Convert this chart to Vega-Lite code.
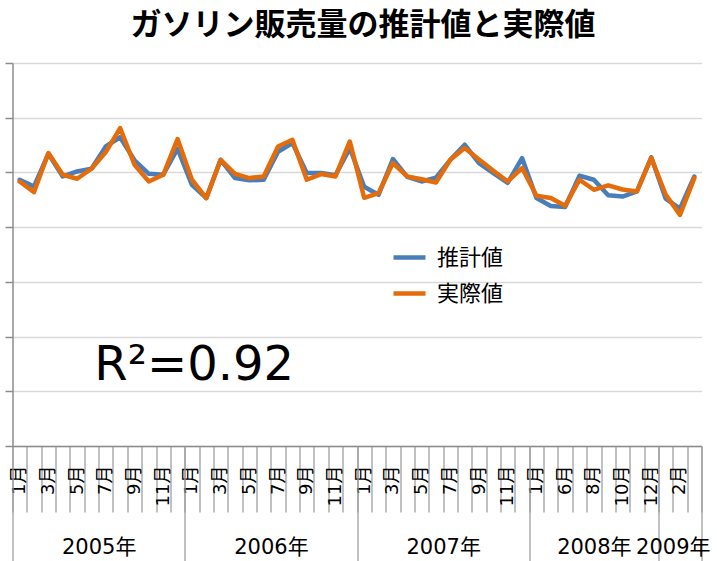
{
  "$schema": "https://vega.github.io/schema/vega-lite/v6.json",
  "width": 689,
  "height": 383,
  "autosize": {"type": "none"},
  "padding": {"left": 12.5, "top": 63, "right": 15.5, "bottom": 115},
  "background": "white",
  "title": {
    "text": "ガソリン販売量の推計値と実際値",
    "font": "Noto Sans CJK JP",
    "fontSize": 31,
    "fontWeight": "bold",
    "color": "#000000",
    "anchor": "middle",
    "frame": "group",
    "offset": 20,
    "dx": 6
  },
  "datasets": {
    "sales": [
      {"No": 1, "年": "2005年", "月": "1月", "推計値": 4866, "実際値": 4834},
      {"No": 2, "年": "2005年", "月": "2月", "推計値": 4743, "実際値": 4641},
      {"No": 3, "年": "2005年", "月": "3月", "推計値": 5341, "実際値": 5354},
      {"No": 4, "年": "2005年", "月": "4月", "推計値": 4926, "実際値": 4957},
      {"No": 5, "年": "2005年", "月": "5月", "推計値": 5017, "実際値": 4884},
      {"No": 6, "年": "2005年", "月": "6月", "推計値": 5067, "実際値": 5067},
      {"No": 7, "年": "2005年", "月": "7月", "推計値": 5475, "実際値": 5372},
      {"No": 8, "年": "2005年", "月": "8月", "推計値": 5643, "実際値": 5811},
      {"No": 9, "年": "2005年", "月": "9月", "推計値": 5222, "実際値": 5140},
      {"No": 10, "年": "2005年", "月": "10月", "推計値": 4975, "実際値": 4835},
      {"No": 11, "年": "2005年", "月": "11月", "推計値": 4957, "実際値": 4957},
      {"No": 12, "年": "2005年", "月": "12月", "推計値": 5433, "実際値": 5610},
      {"No": 13, "年": "2006年", "月": "1月", "推計値": 4774, "実際値": 4866},
      {"No": 14, "年": "2006年", "月": "2月", "推計値": 4531, "実際値": 4531},
      {"No": 15, "年": "2006年", "月": "3月", "推計値": 5231, "実際値": 5231},
      {"No": 16, "年": "2006年", "月": "4月", "推計値": 4897, "実際値": 4975},
      {"No": 17, "年": "2006年", "月": "5月", "推計値": 4856, "実際値": 4897},
      {"No": 18, "年": "2006年", "月": "6月", "推計値": 4866, "実際値": 4926},
      {"No": 19, "年": "2006年", "月": "7月", "推計値": 5378, "実際値": 5475},
      {"No": 20, "年": "2006年", "月": "8月", "推計値": 5537, "実際値": 5597},
      {"No": 21, "年": "2006年", "月": "9月", "推計値": 4988, "実際値": 4866},
      {"No": 22, "年": "2006年", "月": "10月", "推計値": 4988, "実際値": 4970},
      {"No": 23, "年": "2006年", "月": "11月", "推計値": 4948, "実際値": 4926},
      {"No": 24, "年": "2006年", "月": "12月", "推計値": 5445, "実際値": 5566},
      {"No": 25, "年": "2007年", "月": "1月", "推計値": 4738, "実際値": 4536},
      {"No": 26, "年": "2007年", "月": "2月", "推計値": 4591, "実際値": 4622},
      {"No": 27, "年": "2007年", "月": "3月", "推計値": 5246, "実際値": 5171},
      {"No": 28, "年": "2007年", "月": "4月", "推計値": 4920, "実際値": 4926},
      {"No": 29, "年": "2007年", "月": "5月", "推計値": 4835, "実際値": 4875},
      {"No": 30, "年": "2007年", "月": "6月", "推計値": 4906, "実際値": 4816},
      {"No": 31, "年": "2007年", "月": "7月", "推計値": 5231, "実際値": 5231},
      {"No": 32, "年": "2007年", "月": "8月", "推計値": 5506, "実際値": 5445},
      {"No": 33, "年": "2007年", "月": "9月", "推計値": 5171, "実際値": 5237},
      {"No": 34, "年": "2007年", "月": "10月", "推計値": 4988, "実際値": 5030},
      {"No": 35, "年": "2007年", "月": "11月", "推計値": 4811, "実際値": 4835},
      {"No": 36, "年": "2007年", "月": "12月", "推計値": 5262, "実際値": 5080},
      {"No": 37, "年": "2008年", "月": "1月", "推計値": 4531, "実際値": 4573},
      {"No": 38, "年": "2008年", "月": "2月", "推計値": 4386, "実際値": 4531},
      {"No": 39, "年": "2008年", "月": "6月", "推計値": 4368, "実際値": 4390},
      {"No": 40, "年": "2008年", "月": "7月", "推計値": 4939, "実際値": 4866},
      {"No": 41, "年": "2008年", "月": "8月", "推計値": 4866, "実際値": 4683},
      {"No": 42, "年": "2008年", "月": "9月", "推計値": 4582, "実際値": 4765},
      {"No": 43, "年": "2008年", "月": "10月", "推計値": 4560, "実際値": 4688},
      {"No": 44, "年": "2008年", "月": "11月", "推計値": 4652, "実際値": 4652},
      {"No": 45, "年": "2008年", "月": "12月", "推計値": 5277, "実際値": 5268},
      {"No": 46, "年": "2009年", "月": "1月", "推計値": 4522, "実際値": 4597},
      {"No": 47, "年": "2009年", "月": "2月", "推計値": 4339, "実際値": 4225},
      {"No": 48, "年": "2009年", "月": "3月", "推計値": 4926, "実際値": 4897}
    ]
  },
  "data": {"name": "sales"},
  "layer": [
    {
      "mark": {"type": "line", "strokeWidth": 4.5, "strokeJoin": "round", "strokeCap": "round"},
      "encoding": {
        "x": {
          "field": "No",
          "type": "quantitative",
          "scale": {"domain": [0.5, 48.5], "nice": false, "zero": false},
          "axis": {
            "title": null,
            "values": [0.5, 1.5, 2.5, 3.5, 4.5, 5.5, 6.5, 7.5, 8.5, 9.5, 10.5, 11.5, 12.5, 13.5, 14.5, 15.5, 16.5, 17.5, 18.5, 19.5, 20.5, 21.5, 22.5, 23.5, 24.5, 25.5, 26.5, 27.5, 28.5, 29.5, 30.5, 31.5, 32.5, 33.5, 34.5, 35.5, 36.5, 37.5, 38.5, 39.5, 40.5, 41.5, 42.5, 43.5, 44.5, 45.5, 46.5, 47.5, 48.5],
            "grid": false,
            "domain": true,
            "domainColor": "#8c8c8c",
            "domainWidth": 1.5,
            "ticks": true,
            "tickSize": 66,
            "tickColor": "#a0a0a0",
            "tickWidth": 1.3,
            "labelExpr": "datum.value < 48 && (datum.value + 0.5) % 2 == 1 ? data('sales')[datum.value - 0.5]['月'] : ''",
            "labelAngle": -90,
            "labelAlign": "right",
            "labelBaseline": "middle",
            "labelOffset": 7.18,
            "labelPadding": -47,
            "labelOverlap": false,
            "labelFlush": false,
            "labelFont": "DejaVu Sans, Noto Sans CJK JP",
            "labelFontSize": 18,
            "labelColor": "#000000"
          }
        },
        "y": {
          "field": "推計値",
          "type": "quantitative",
          "scale": {"domain": [0, 7000], "nice": false, "zero": true},
          "axis": {
            "title": null,
            "values": [0, 1000, 2000, 3000, 4000, 5000, 6000, 7000],
            "labels": false,
            "grid": true,
            "gridColor": "#d9d9d9",
            "gridWidth": 1.5,
            "domain": true,
            "domainColor": "#8c8c8c",
            "domainWidth": 1.5,
            "ticks": true,
            "tickSize": 7.5,
            "tickColor": "#8c8c8c",
            "tickWidth": 1.5
          }
        },
        "color": {
          "datum": "推計値",
          "type": "nominal",
          "scale": {"domain": ["推計値", "実際値"], "range": ["#4a7ebb", "#e46c0a"]},
          "legend": {
            "title": null,
            "orient": "none",
            "legendX": 378.5,
            "legendY": 176,
            "padding": 0,
            "symbolType": "stroke",
            "symbolSize": 1024,
            "symbolStrokeWidth": 4.5,
            "rowPadding": 6,
            "labelOffset": 9,
            "labelFont": "Noto Sans CJK JP",
            "labelFontSize": 22,
            "labelColor": "#000000"
          }
        }
      }
    },
    {
      "mark": {"type": "line", "strokeWidth": 4.5, "strokeJoin": "round", "strokeCap": "round"},
      "encoding": {
        "x": {
          "field": "No",
          "type": "quantitative",
          "scale": {"domain": [0.5, 48.5], "nice": false, "zero": false},
          "axis": {
            "title": null,
            "orient": "bottom",
            "values": [0.5, 12.5, 24.5, 36.5, 45.5, 48.5],
            "grid": false,
            "domain": false,
            "ticks": true,
            "tickSize": 116,
            "tickColor": "#a0a0a0",
            "tickWidth": 1.3,
            "labelExpr": "datum.value < 48 ? data('sales')[datum.value - 0.5]['年'] : ''",
            "labelAngle": 0,
            "labelAlign": "center",
            "labelBaseline": "middle",
            "labelOffset": {"expr": "datum.value == 36.5 ? 64.6 : datum.value == 45.5 ? 14.4 : 86.2"},
            "labelPadding": -14.5,
            "labelOverlap": false,
            "labelFlush": false,
            "labelFont": "DejaVu Sans, Noto Sans CJK JP",
            "labelFontSize": 21,
            "labelColor": "#000000"
          }
        },
        "y": {
          "field": "実際値",
          "type": "quantitative",
          "scale": {"domain": [0, 7000], "nice": false, "zero": true},
          "axis": {
            "title": null,
            "values": [0, 1000, 2000, 3000, 4000, 5000, 6000, 7000],
            "labels": false,
            "grid": true,
            "gridColor": "#d9d9d9",
            "gridWidth": 1.5,
            "domain": true,
            "domainColor": "#8c8c8c",
            "domainWidth": 1.5,
            "ticks": true,
            "tickSize": 7.5,
            "tickColor": "#8c8c8c",
            "tickWidth": 1.5
          }
        },
        "color": {"datum": "実際値", "type": "nominal"}
      }
    },
    {
      "data": {"values": [{"label": "R²=0.92"}]},
      "mark": {"type": "text", "align": "left", "baseline": "alphabetic", "font": "DejaVu Sans", "fontSize": 48, "fill": "#000000"},
      "encoding": {
        "x": {"datum": 6.2, "type": "quantitative", "scale": {"domain": [0.5, 48.5], "nice": false, "zero": false}, "axis": null},
        "y": {
          "datum": 1207,
          "type": "quantitative",
          "scale": {"domain": [0, 7000], "nice": false, "zero": true},
          "axis": {
            "title": null,
            "values": [0, 1000, 2000, 3000, 4000, 5000, 6000, 7000],
            "labels": false,
            "grid": true,
            "gridColor": "#d9d9d9",
            "gridWidth": 1.5,
            "domain": true,
            "domainColor": "#8c8c8c",
            "domainWidth": 1.5,
            "ticks": true,
            "tickSize": 7.5,
            "tickColor": "#8c8c8c",
            "tickWidth": 1.5
          }
        },
        "text": {"field": "label", "type": "nominal"}
      }
    }
  ],
  "resolve": {"axis": {"x": "independent"}},
  "config": {"view": {"stroke": null}}
}
